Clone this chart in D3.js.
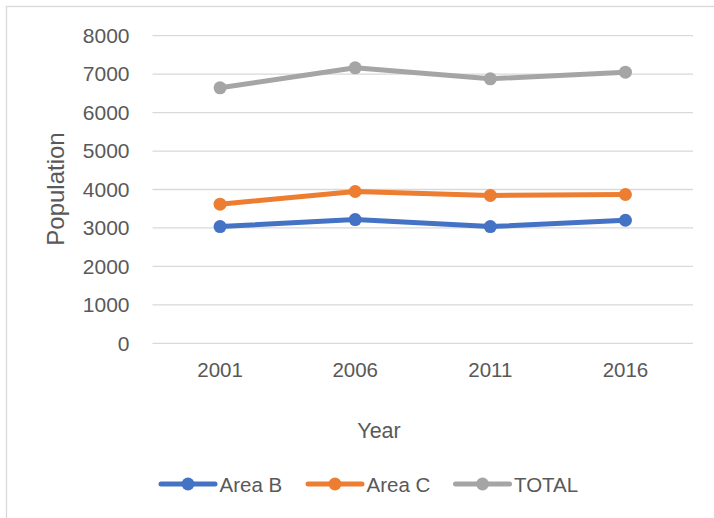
<!DOCTYPE html>
<html>
<head>
<meta charset="utf-8">
<script src="https://cdn.jsdelivr.net/npm/d3@7"></script>
<style>
  html, body { margin: 0; padding: 0; background: #fff; }
  svg { display: block; }
</style>
</head>
<body>
<svg id="chart" width="714" height="518"></svg>
<script>
const years = ["2001", "2006", "2011", "2016"];
const areaB = [3036, 3218, 3036, 3200];
const areaC = [3619, 3948, 3845, 3870];
const total = [6645, 7165, 6879, 7052];
const seriesNames = ["Area B", "Area C", "TOTAL"];
const seriesColors = ["#4472C4", "#ED7D31", "#A5A5A5"];
const yTicks = [0, 1000, 2000, 3000, 4000, 5000, 6000, 7000, 8000];

(function () {
const series = [areaB, areaC, total].map((vals, i) => ({
  name: seriesNames[i], color: seriesColors[i],
  points: vals.map((v, j) => ({ year: years[j], value: v }))
}));

const svg = d3.select("#chart");
const font = "'Liberation Sans', Arial, sans-serif";
const textColor = "#595959";

// chart border
svg.append("rect").attr("x", 6.5).attr("y", 6.5).attr("width", 720).attr("height", 530)
  .attr("fill", "none").attr("stroke", "#D9D9D9").attr("stroke-width", 1.3);

const pLeft = 152.5, pRight = 693, pTop = 35.7, pBottom = 343.3;
const x = d3.scaleBand().domain(years).range([pLeft, pRight]);
const y = d3.scaleLinear().domain([0, 8000]).range([pBottom, pTop]);

// gridlines
svg.append("g").selectAll("line").data(yTicks).join("line")
  .attr("x1", pLeft).attr("x2", pRight)
  .attr("y1", d => y(d)).attr("y2", d => y(d))
  .attr("stroke", "#D9D9D9").attr("stroke-width", 1.3);

// y axis labels
const yAxis = svg.append("g").attr("transform", `translate(${pLeft},0)`)
  .call(d3.axisLeft(y).tickValues(yTicks).tickSize(0).tickPadding(23).tickFormat(d3.format("d")));
yAxis.select(".domain").remove();
yAxis.selectAll("text").attr("font-family", font).attr("font-size", 21).attr("fill", textColor);

// x axis labels
const xAxis = svg.append("g").attr("transform", `translate(0,${pBottom})`)
  .call(d3.axisBottom(x).tickSize(0).tickPadding(19.5));
xAxis.select(".domain").remove();
xAxis.selectAll("text").attr("font-family", font).attr("font-size", 20.5).attr("fill", textColor);

// axis titles
svg.append("text").attr("x", 379).attr("y", 438).attr("text-anchor", "middle")
  .attr("font-family", font).attr("font-size", 21.5).attr("fill", textColor).text("Year");
svg.append("text").attr("transform", "translate(64,189) rotate(-90)").attr("text-anchor", "middle")
  .attr("font-family", font).attr("font-size", 24).attr("fill", textColor).text("Population");

// lines
const line = d3.line().x(d => x(d.year) + x.bandwidth() / 2).y(d => y(d.value));
const g = svg.append("g");
series.forEach(s => {
  g.append("path").datum(s.points).attr("d", line)
    .attr("fill", "none").attr("stroke", s.color).attr("stroke-width", 5)
    .attr("stroke-linejoin", "round").attr("stroke-linecap", "round");
  g.selectAll(null).data(s.points).join("circle")
    .attr("cx", d => x(d.year) + x.bandwidth() / 2).attr("cy", d => y(d.value))
    .attr("r", 6.5).attr("fill", s.color);
});

// legend
const legendX = [161, 308, 455.5];
const leg = svg.append("g");
series.forEach((s, i) => {
  const lx = legendX[i], ly = 484;
  leg.append("line").attr("x1", lx).attr("x2", lx + 54).attr("y1", ly).attr("y2", ly)
    .attr("stroke", s.color).attr("stroke-width", 5).attr("stroke-linecap", "round");
  leg.append("circle").attr("cx", lx + 27).attr("cy", ly).attr("r", 6.5).attr("fill", s.color);
  leg.append("text").attr("x", lx + 58.5).attr("y", ly + 7.5)
    .attr("font-family", font).attr("font-size", 20.5).attr("fill", textColor).text(s.name);
});
})();
</script>
</body>
</html>
